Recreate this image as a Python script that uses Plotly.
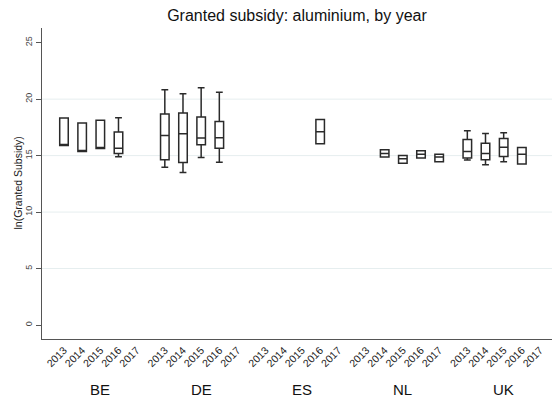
import plotly.graph_objects as go

countries = ["BE", "DE", "ES", "NL", "UK"]
years = ["2013", "2014", "2015", "2016", "2017"]

# per country: values for each year (None = no data)
q1 = {
    "BE": [15.90, 15.36, 15.63, 15.19, None],
    "DE": [14.63, 14.39, 15.96, 15.66, None],
    "ES": [None, None, None, 16.05, None],
    "NL": [None, 14.87, 14.33, 14.78, 14.45],
    "UK": [14.78, 14.63, 14.92, 14.25, None],
}
median = {
    "BE": [15.90, 15.36, 15.63, 15.66, None],
    "DE": [16.78, 16.93, 16.55, 16.58, None],
    "ES": [None, None, None, 17.11, None],
    "NL": [None, 15.19, 14.72, 15.13, 14.87],
    "UK": [15.36, 15.19, 15.75, 15.13, None],
}
q3 = {
    "BE": [18.32, 17.88, 18.14, 17.08, None],
    "DE": [18.68, 18.77, 18.41, 18.02, None],
    "ES": [None, None, None, 18.20, None],
    "NL": [None, 15.51, 15.00, 15.43, 15.13],
    "UK": [16.43, 16.10, 16.52, 15.72, None],
}
lower = {
    "BE": [15.90, 15.36, 15.63, 14.89, None],
    "DE": [13.98, 13.50, 14.83, 14.42, None],
    "ES": [None, None, None, 16.05, None],
    "NL": [None, 14.87, 14.33, 14.78, 14.45],
    "UK": [14.60, 14.18, 14.45, 14.25, None],
}
upper = {
    "BE": [18.32, 17.88, 18.14, 18.35, None],
    "DE": [20.83, 20.48, 21.01, 20.60, None],
    "ES": [None, None, None, 18.20, None],
    "NL": [None, 15.51, 15.00, 15.43, 15.13],
    "UK": [17.20, 16.96, 17.02, 15.72, None],
}

y_ticks = [0, 5, 10, 15, 20, 25]
grid_vals = [5, 10, 15, 20]

GAP = 0.55  # extra space between country groups (in category units)


def pos(ci, yi):
    return ci * (len(years) + GAP) + yi


xs, Q1, MED, Q3, LO, HI = [], [], [], [], [], []
tickvals, ticktext = [], []
for ci, c in enumerate(countries):
    for yi, yr in enumerate(years):
        tickvals.append(pos(ci, yi))
        ticktext.append(yr)
        if q1[c][yi] is not None:
            xs.append(pos(ci, yi))
            Q1.append(q1[c][yi])
            MED.append(median[c][yi])
            Q3.append(q3[c][yi])
            LO.append(lower[c][yi])
            HI.append(upper[c][yi])

FONT = "Arial, Liberation Sans, sans-serif"

fig = go.Figure()
fig.add_trace(go.Box(
    x=xs, q1=Q1, median=MED, q3=Q3, lowerfence=LO, upperfence=HI,
    width=0.47, whiskerwidth=0.8,
    fillcolor="white",
    line=dict(color="#2a2a2a", width=1.5),
    boxpoints=False, hoverinfo="skip", showlegend=False,
))

shapes = []
for g in grid_vals:
    shapes.append(dict(type="line", xref="paper", x0=0, x1=1, yref="y", y0=g, y1=g,
                       line=dict(color="#e6eeef", width=1), layer="below"))

annotations = []
for ci, c in enumerate(countries):
    annotations.append(dict(
        text=c, xref="x", x=pos(ci, 2), yref="paper", y=-0.161,
        yanchor="middle", xanchor="center", showarrow=False,
        font=dict(size=15, color="#111111", family=FONT)))
annotations.append(dict(
    text="ln(Granted Subsidy)", xref="paper", x=-0.049, yref="paper", y=0.5,
    textangle=-90, xanchor="center", yanchor="middle", showarrow=False,
    font=dict(size=10.5, color="#222222", family=FONT)))

fig.update_layout(
    width=552, height=401,
    margin=dict(l=42, r=0, t=28, b=62),
    paper_bgcolor="white", plot_bgcolor="white",
    font=dict(family=FONT),
    title=dict(text="Granted subsidy: aluminium, by year", x=0.5, xref="paper",
               y=1 - 15 / 401, yref="container", xanchor="center", yanchor="middle",
               font=dict(size=16, color="#111111", family=FONT)),
    xaxis=dict(
        range=[-1.21, 26.86], tickvals=tickvals, ticktext=ticktext,
        tickangle=-45, tickfont=dict(size=10.5, color="#1a1a1a", family=FONT),
        showgrid=False, zeroline=False, showline=True, linecolor="#555555", linewidth=1.2,
        ticks="", fixedrange=True,
    ),
    yaxis=dict(
        range=[-1.24, 26.3], tickvals=y_ticks, ticks="outside", ticklen=5,
        tickcolor="#555555", tickangle=-90, tickfont=dict(size=9, color="#444444", family=FONT),
        showgrid=False, zeroline=False, showline=True, linecolor="#555555", linewidth=1.2,
    ),
    shapes=shapes, annotations=annotations,
)

fig.write_html("out.html")
